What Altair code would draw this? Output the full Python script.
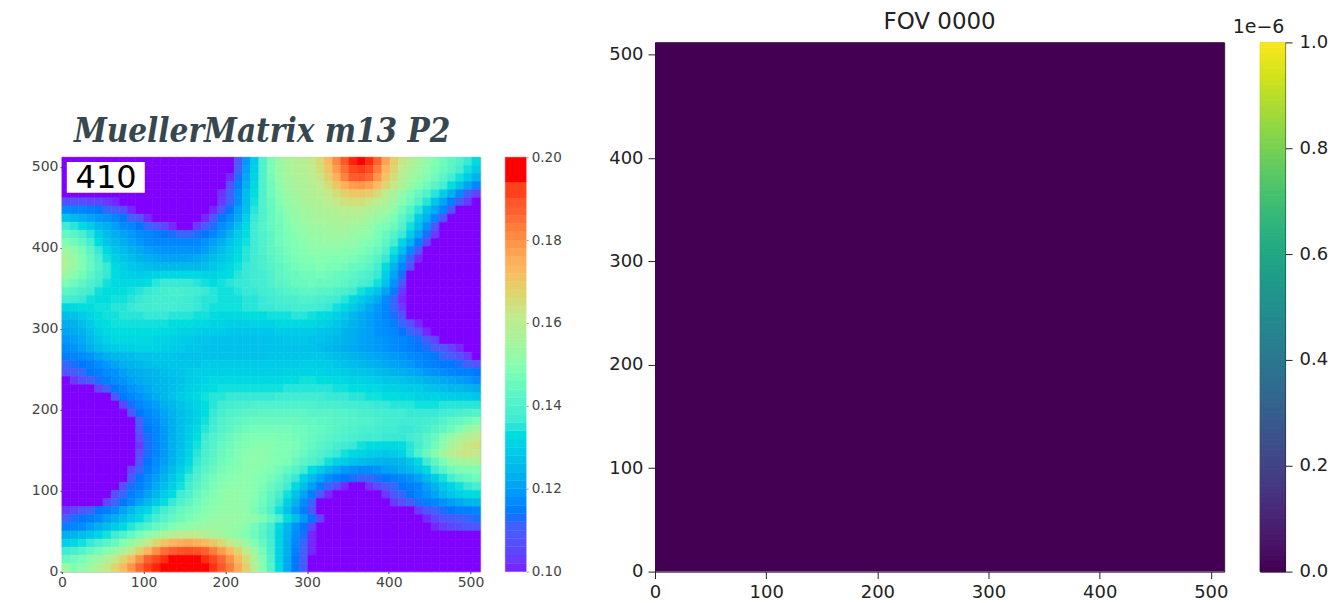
import altair as alt
import pandas as pd

grid_count = 51
m13_base = 100
# thousandths above 0.100, top row first, left column first
m13_rows = [
[0]*21+[9,20,30,41,49,54,57,59,60,63,67,74,82,90,98,100,97,88,78,70,64,60,56,53,50,47,44,41,37,33],
[0]*21+[12,21,31,41,49,54,57,59,60,62,66,72,79,86,93,95,92,84,75,68,62,58,55,52,49,46,43,39,35,30],
[0]*20+[2,14,23,32,41,48,53,56,58,59,61,64,69,76,83,89,90,87,80,72,66,60,56,53,50,47,43,39,35,30,25],
[0]*20+[8,16,25,33,41,47,52,55,57,58,60,62,66,71,76,79,80,78,74,68,63,58,54,50,47,43,39,34,28,22,17],
[0]*19+[3,12,18,27,34,41,47,51,54,56,58,59,61,63,66,69,71,71,70,67,62,57,53,49,45,41,36,31,24,18,12,5],
[8,8,8,6,6,4,2]+[0]*12+[4,12,18,27,35,41,46,50,53,55,57,58,59,61,63,65,66,66,64,61,59,55,51,47,42,36,29,22,16,10,4,0],
[18,17,17,16,15,13,11,8,2]+[0]*9+[2,9,15,21,28,36,41,45,49,52,54,55,57,58,59,60,61,61,61,59,57,55,52,47,42,36,29,23,17,10,0,0,0],
[28,26,24,22,20,19,17,15,12,9,2]+[0]*6+[2,9,15,18,23,31,37,41,45,48,51,53,55,56,57,58,58,59,59,58,56,54,52,49,44,38,31,24,17,9,0,0,0,0],
[38,36,33,30,26,24,21,18,17,15,13,10,6,2,0,0,4,10,14,18,21,27,33,38,42,45,47,50,52,53,55,56,56,57,57,56,55,53,51,49,46,41,35,27,19,10,0,0,0,0,0],
[45,43,40,36,31,27,24,22,20,18,17,16,15,14,13,13,14,15,17,20,25,30,34,38,41,44,47,49,51,52,54,54,55,55,55,54,53,52,49,46,42,37,30,22,14,4]+[0]*5,
[50,47,44,39,34,29,26,24,22,20,18,17,17,17,17,17,17,19,21,24,28,32,35,38,41,44,47,49,50,51,53,53,54,54,53,53,51,50,48,44,39,32,24,16,6]+[0]*6,
[55,52,48,43,37,33,29,27,25,23,21,20,19,19,19,19,19,21,24,27,30,33,36,38,41,44,46,48,50,51,52,52,52,52,51,51,50,48,45,41,35,27,18,10]+[0]*7,
[57,54,50,45,40,35,31,29,27,25,24,23,22,22,22,22,23,25,27,29,31,34,36,38,40,43,45,47,49,50,50,51,51,50,50,49,47,45,42,37,30,21,13,2]+[0]*7,
[57,54,50,46,41,37,33,31,29,28,27,26,26,26,26,26,26,27,29,31,33,35,37,38,40,42,44,46,48,49,49,50,49,49,48,46,45,43,39,34,25,17,8]+[0]*8,
[54,51,48,44,40,37,34,32,31,30,31,32,33,33,33,33,33,32,32,33,34,36,37,38,39,41,44,45,46,47,47,48,47,46,45,44,42,40,37,31,22,14]+[0]*9,
[49,47,44,41,38,35,33,33,33,33,34,36,37,37,37,37,36,35,34,35,36,37,37,38,39,41,43,44,46,46,47,46,46,45,44,42,40,38,35,28,19,10]+[0]*9,
[44,42,40,38,35,34,34,34,35,36,37,38,39,40,40,39,38,37,36,35,35,36,37,37,38,39,41,42,43,44,44,43,43,41,40,38,35,32,28,22,16,4]+[0]*9,
[39,38,37,35,34,34,35,35,36,37,38,39,39,39,39,38,37,36,36,35,35,35,36,36,37,38,39,40,40,41,41,40,39,38,36,33,30,27,23,18,13,2]+[0]*9,
[33,33,34,34,35,35,36,36,37,38,38,39,39,39,38,38,37,36,35,35,35,35,36,36,37,37,38,38,39,39,39,38,37,35,33,30,27,23,20,17,13,4]+[0]*9,
[27,28,30,32,34,35,35,36,36,36,37,37,37,36,36,36,35,35,34,33,33,33,34,34,34,35,35,35,36,36,35,34,33,31,29,26,23,21,19,17,14,8,0]+[0]*8,
[24,25,27,30,33,34,35,35,35,35,35,35,35,34,34,34,33,33,32,32,31,31,31,32,32,32,33,33,33,33,33,32,31,29,27,25,23,21,19,18,16,13,8,2]+[0]*7,
[22,23,25,28,31,33,34,34,34,34,34,34,33,33,32,32,31,30,30,30,29,29,29,29,29,29,30,30,30,30,30,29,28,27,25,24,22,21,19,18,17,15,13,9,2]+[0]*6,
[20,21,23,26,29,32,33,33,33,33,33,32,32,31,30,30,29,29,28,28,28,28,28,28,28,28,28,29,29,29,28,28,27,26,25,24,22,21,20,19,18,17,16,14,10,6,0]+[0]*4,
[18,19,21,24,27,29,30,31,31,32,32,32,31,30,30,29,29,28,28,28,28,28,28,28,28,28,28,28,28,28,28,27,26,25,24,23,22,21,20,19,18,17,16,15,14,11,9,6,2,0,0],
[16,17,18,19,22,24,26,26,27,28,28,29,29,29,28,28,28,28,28,28,28,28,28,28,28,29,29,29,29,29,29,29,28,27,26,25,24,23,22,21,20,19,18,17,16,15,13,11,8,4,0],
[13,14,15,16,18,20,22,24,25,26,27,28,28,29,29,29,29,30,30,30,30,30,30,30,30,30,30,30,30,31,31,30,30,29,28,27,26,25,24,23,22,21,20,18,17,16,15,15,14,12,9],
[9,11,13,15,16,18,19,21,23,24,25,26,27,28,29,30,31,31,31,31,31,31,31,31,31,31,31,32,32,32,32,32,31,31,30,29,29,28,27,26,25,24,23,22,20,19,18,17,16,16,15],
[0,4,8,11,14,16,18,19,21,23,24,25,26,27,28,30,31,32,33,33,33,33,33,33,33,33,33,34,34,35,35,34,34,33,33,32,32,31,30,29,29,28,27,26,25,24,23,22,21,20,18],
[0,0,0,0,6,12,15,17,19,21,23,25,26,27,29,31,32,33,34,35,35,35,35,35,35,35,35,36,36,36,36,36,36,35,35,34,34,33,33,32,32,31,30,30,29,28,27,26,26,25,24],
[0,0,0,0,0,0,10,15,17,19,21,24,26,28,30,32,33,35,36,36,37,37,37,37,37,37,38,38,38,38,38,38,37,37,37,36,36,35,35,34,34,33,33,32,32,32,31,31,30,30,29],
[0]*7+[6,14,17,19,21,24,26,28,30,32,34,36,38,39,40,40,41,41,41,41,41,41,41,41,40,40,40,39,39,38,38,37,37,36,36,36,35,35,35,36,36,36,36,36],
[0]*8+[10,15,17,19,22,25,27,29,31,34,37,39,41,42,43,43,44,44,44,44,44,44,43,43,43,42,42,41,40,40,39,39,38,38,37,37,37,37,38,39,40,41,42],
[0]*9+[12,16,18,21,24,27,29,32,35,38,41,43,44,45,46,46,46,46,46,46,45,45,44,44,43,43,42,41,41,40,39,39,38,38,38,39,40,42,44,45,47,49],
[0]*9+[10,15,17,20,24,27,30,33,36,39,42,44,46,47,48,48,48,48,48,47,47,46,45,44,43,42,41,40,40,39,38,38,37,37,38,40,42,44,47,50,53,56],
[0]*9+[7,14,17,20,24,27,30,34,38,41,44,46,48,49,50,50,50,49,49,48,47,46,44,43,42,41,40,39,38,38,37,37,37,38,40,43,46,50,54,57,60,62],
[0]*9+[4,14,17,20,24,27,31,35,39,42,45,47,49,50,51,51,51,50,50,49,47,45,43,41,39,38,37,35,34,34,33,33,34,36,39,43,47,52,57,61,64,65],
[0]*9+[7,14,17,20,24,28,32,36,40,43,46,48,50,51,52,52,51,50,50,48,46,43,41,39,37,35,33,32,30,30,29,30,32,36,41,46,51,56,60,63,64,63],
[0]*9+[10,15,18,21,25,29,33,37,41,44,47,49,50,52,52,52,51,50,49,46,43,41,38,35,32,30,28,27,26,25,25,25,26,29,33,38,44,49,53,55,56,57],
[0]*8+[6,13,16,19,23,27,31,35,39,43,46,48,50,51,52,52,51,50,48,45,42,38,34,30,26,23,20,19,18,18,19,21,22,24,26,29,33,38,43,47,49,50,50],
[0]*8+[10,15,18,21,25,29,33,37,41,45,48,50,51,52,52,51,50,48,45,41,37,32,27,22,18,16,15,14,13,13,14,15,16,17,19,22,26,30,35,39,43,45,47],
[0]*7+[8,14,16,19,23,27,31,35,39,43,46,49,51,52,52,52,51,49,46,43,38,33,27,21,16,13,8,2,0,0,3,7,11,13,15,16,17,21,25,29,32,35,37,39],
[0]*6+[8,13,16,18,22,26,30,34,38,41,45,48,50,52,53,53,52,51,48,44,40,35,28,22,16,11,2]+[0]*6+[4,10,13,15,17,19,22,26,29,32,33,34],
[0]*5+[6,12,15,18,22,26,30,34,37,41,44,47,49,51,52,53,53,52,50,47,43,37,31,25,18,13]+[0]*9+[4,8,11,14,16,17,19,21,23,25,26],
[4,6,9,12,15,16,18,22,26,30,33,36,39,42,45,47,49,51,52,53,53,53,52,49,46,41,35,28,21,16,9]+[0]*12+[4,9,12,14,15,16,16,17],
[12,14,15,16,18,21,24,27,30,33,36,39,42,45,47,49,51,52,53,54,54,54,53,52,49,45,40,34,27,20,15,6]+[0]*11+[0,2,6,9,10,12,13,14],
[16,17,18,21,24,27,30,33,36,39,42,45,47,50,52,53,54,55,55,55,54,53,51,48,44,39,33,26,19,15,6]+[0]*14+[2,4,6,8,9,9],
[24,25,27,29,32,35,38,41,45,49,52,55,58,60,62,63,62,60,58,56,54,52,50,47,43,38,32,25,18,14,2]+[0]*20,
[31,33,35,37,40,43,46,50,54,58,63,68,72,75,76,77,76,74,71,67,63,59,55,50,45,39,32,24,17,13,2]+[0]*20,
[38,40,42,45,48,51,54,58,63,69,75,81,86,89,91,92,91,88,84,79,74,68,62,55,48,40,32,24,16,12,2]+[0]*20,
[45,47,49,52,55,59,63,68,74,81,88,93,97,100,100,100,100,97,93,87,81,74,67,58,50,41,32,23,15,11,0]+[0]*20,
[55,50,52,55,59,63,68,74,80,87,94,98,100,100,100,100,100,100,96,90,84,77,69,60,51,42,33,23,15,10,0]+[0]*20,
]

ticks_xy = [0,100,200,300,400,500]
rainbow_stops = [0.1,0.1125,0.125,0.1375,0.15,0.1625,0.175,0.1875,0.2]
rainbow_colors = ["#8000ff","#4062fa","#00b4eb","#40ebd4","#80ffb4","#c0eb8e","#ffb462","#ff6232","#ff0000"]
left_cbar_edges = [0.100,0.102,0.104,0.106,0.108,0.110,0.112,0.114,0.116,0.118,0.120,0.122,0.124,0.126,0.128,0.130,0.132,0.134,0.136,0.138,0.140,0.142,0.144,0.146,0.148,0.150,0.152,0.154,0.156,0.158,0.160,0.162,0.164,0.166,0.168,0.170,0.172,0.174,0.176,0.178,0.180,0.182,0.184,0.186,0.188,0.190,0.194,0.200]
left_cbar_ticks = [0.10,0.12,0.14,0.16,0.18,0.20]

fov_value = [0.0]
extent_lo = [0]
extent_hi = [512]
right_cbar_edges = [0.00,0.01,0.02,0.03,0.04,0.05,0.06,0.07,0.08,0.09,0.10,0.11,0.12,0.13,0.14,0.15,0.16,0.17,0.18,0.19,0.20,0.21,0.22,0.23,0.24,0.25,0.26,0.27,0.28,0.29,0.30,0.31,0.32,0.33,0.34,0.35,0.36,0.37,0.38,0.39,0.40,0.41,0.42,0.43,0.44,0.45,0.46,0.47,0.48,0.49,0.50,0.51,0.52,0.53,0.54,0.55,0.56,0.57,0.58,0.59,0.60,0.61,0.62,0.63,0.64,0.65,0.66,0.67,0.68,0.69,0.70,0.71,0.72,0.73,0.74,0.75,0.76,0.77,0.78,0.79,0.80,0.81,0.82,0.83,0.84,0.85,0.86,0.87,0.88,0.89,0.90,0.91,0.92,0.93,0.94,0.95,0.96,0.97,0.98,0.99,1.00]
right_cbar_ticks = [0.0,0.2,0.4,0.6,0.8,1.0]

title_left = "MuellerMatrix m13 P2"
title_right = "FOV 0000"
frame_label = ["410"]
offset_label = "1e\u22126"

cell_size = extent_hi[0] / grid_count
cells = pd.DataFrame([
    {"x0": j * cell_size, "x1": (j + 1) * cell_size,
     "y0": extent_hi[0] - (i + 1) * cell_size, "y1": extent_hi[0] - i * cell_size,
     "v": (m13_base + o) / 1000}
    for i, row in enumerate(m13_rows)
    for j, o in enumerate(row)
])
left_bar = pd.DataFrame({"lo": left_cbar_edges[:-1], "hi": left_cbar_edges[1:]})
right_bar = pd.DataFrame({"lo": right_cbar_edges[:-1], "hi": right_cbar_edges[1:]})

rainbow = alt.Scale(domain=rainbow_stops, range=rainbow_colors, clamp=True)
box = pd.DataFrame({"x0": [6], "x1": [101.4], "y0": [468], "y1": [506], "xc": [54], "yc": [486.5], "t": frame_label})

def pos_axis(size, color, tick, pad):
    return alt.Axis(title=None, grid=False, values=ticks_xy, labelFontSize=size, labelColor=color,
                    tickColor=color, tickSize=tick, labelPadding=pad, domain=False,
                    labelFlush=False, labelOverlap=False, labelFont="DejaVu Sans")

xs = alt.Scale(domain=[0, 512], nice=False, zero=False)
ys = alt.Scale(domain=[0, 512], nice=False, zero=False)

left_axis_args = (14, "#444444", 2, 2)
cells_layer = alt.Chart(cells).mark_rect(strokeWidth=0.6).encode(
    x=alt.X("x0:Q", scale=xs, axis=pos_axis(*left_axis_args)),
    x2="x1:Q",
    y=alt.Y("y0:Q", scale=ys, axis=pos_axis(*left_axis_args)),
    y2="y1:Q",
    color=alt.Color("v:Q", scale=rainbow, legend=None),
    stroke=alt.Stroke("v:Q", scale=rainbow, legend=None),
)
box_layer = alt.Chart(box).mark_rect(color="white").encode(
    x=alt.X("x0:Q", scale=xs), x2="x1:Q", y=alt.Y("y0:Q", scale=ys), y2="y1:Q")
text_layer = alt.Chart(box).mark_text(fontSize=32, font="DejaVu Sans", color="black").encode(
    x=alt.X("xc:Q", scale=xs), y=alt.Y("yc:Q", scale=ys), text="t:N")

left_heat = alt.layer(cells_layer, box_layer, text_layer).properties(
    width=419, height=415, view=alt.ViewBackground(stroke="#a9b4a0", strokeWidth=1))

left_cbar = alt.Chart(left_bar).mark_rect(strokeWidth=0.4).encode(
    y=alt.Y("lo:Q", scale=alt.Scale(domain=[0.1, 0.2], nice=False, zero=False),
            axis=alt.Axis(title=None, orient="right", grid=False, values=left_cbar_ticks, format=".2f",
                          labelFontSize=13.5, labelColor="#444444", tickSize=2, tickColor="#999999",
                          labelPadding=3, domain=False, labelFlush=False, labelOverlap=False,
                          labelFont="DejaVu Sans")),
    y2="hi:Q",
    color=alt.Color("hi:Q", scale=rainbow, legend=None),
    stroke=alt.Stroke("hi:Q", scale=rainbow, legend=None),
).properties(width=21, height=415)

spacer = alt.Chart(pd.DataFrame({"t": [title_left]})).mark_text(
    font="DejaVu Serif Condensed, DejaVu Serif", fontSize=33, fontStyle="italic", fontWeight="bold",
    color="#37474f", align="left", baseline="alphabetic").encode(
    x=alt.value(12), y=alt.value(100), text="t:N").properties(width=419, height=92)

left_group = alt.vconcat(spacer, alt.hconcat(left_heat, left_cbar, spacing=19), spacing=1)

right_heat = alt.Chart(pd.DataFrame({"x0": extent_lo, "x1": extent_hi, "y0": extent_lo, "y1": extent_hi, "v": fov_value})).mark_rect().encode(
    x=alt.X("x0:Q", scale=xs, axis=pos_axis(18, "#222222", 7, 5)),
    x2="x1:Q",
    y=alt.Y("y0:Q", scale=ys, axis=pos_axis(18, "#222222", 7, 5)),
    y2="y1:Q",
    color=alt.Color("v:Q", scale=alt.Scale(scheme="viridis", domain=[0, 1]), legend=None),
).properties(width=570, height=530,
             title=alt.TitleParams(title_right, fontSize=23, font="DejaVu Sans", fontWeight="normal",
                                   color="#222222", offset=8),
             view=alt.ViewBackground(stroke="#111111", strokeWidth=1))

right_cbar = alt.Chart(right_bar).mark_rect(strokeWidth=1).encode(
    y=alt.Y("lo:Q", scale=alt.Scale(domain=[0, 1], nice=False, zero=False),
            axis=alt.Axis(title=None, orient="right", grid=False, values=right_cbar_ticks, format=".1f",
                          labelFontSize=18, labelColor="#222222", tickSize=7, tickColor="#222222",
                          labelPadding=7, domain=False, labelFlush=False, labelOverlap=False,
                          labelFont="DejaVu Sans")),
    y2="hi:Q",
    color=alt.Color("lo:Q", scale=alt.Scale(scheme="viridis", domain=[0, 1]), legend=None),
    stroke=alt.Stroke("lo:Q", scale=alt.Scale(scheme="viridis", domain=[0, 1]), legend=None),
).properties(width=25, height=530,
             title=alt.TitleParams(offset_label, fontSize=19, font="DejaVu Sans", fontWeight="normal",
                                   color="#222222", anchor="start", dx=-27, offset=-4),
             view=alt.ViewBackground(stroke="#111111", strokeWidth=1))

right_group = alt.hconcat(right_heat, right_cbar, spacing=3)

chart = alt.hconcat(left_group, right_group, spacing=46).properties(
    padding={"left": 22, "top": 2, "right": 0, "bottom": 0}
).configure_view(stroke=None).resolve_scale(color="independent", stroke="independent")

chart.save("out.html", embed_options={"renderer": "svg", "actions": False})
